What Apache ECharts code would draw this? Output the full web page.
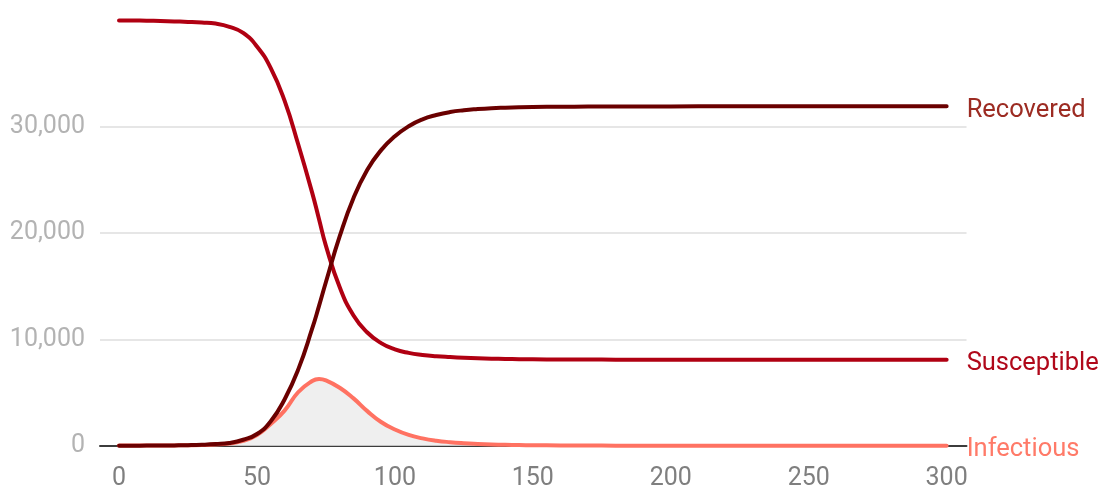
<!DOCTYPE html>
<html>
<head>
<meta charset="utf-8">
<script src="https://cdn.jsdelivr.net/npm/echarts@6/dist/echarts.min.js"></script>
<style>
html,body{margin:0;padding:0;background:#fff;}
#chart{width:1105px;height:486px;}
</style>
</head>
<body>
<div id="chart"></div>
<script>
// Days (x values)
var days = [0,5,10,15,20,25,30,35,40,45,50,55,60,65,70,72.5,75,80,85,90,95,100,105,110,115,120,125,130,135,140,145,150,160,170,180,190,200,220,240,260,280,300];
// Series values (people)
var susceptible = [40000,39990,39970,39940,39900,39860,39800,39700,39400,38820,37550,35520,32450,28300,23800,21300,18800,14900,12250,10650,9650,9060,8730,8540,8420,8340,8275,8225,8185,8155,8135,8120,8105,8098,8094,8092,8090,8090,8090,8090,8090,8090];
var infectious = [10,12,16,22,30,45,65,110,210,450,1000,2050,3300,5050,6080,6280,6150,5450,4450,3250,2230,1520,1010,690,470,330,235,170,120,85,62,45,22,11,5,2,1,0,0,0,0,0];
var recovered = [0,3,8,15,28,48,85,150,260,560,1100,2300,4350,7200,11000,13150,15400,19700,23300,25950,27800,29100,30050,30700,31100,31380,31550,31660,31740,31790,31830,31855,31880,31895,31903,31908,31912,31916,31918,31920,31920,31920];
// Axis ticks
var xTicks = [0,50,100,150,200,250,300];
var seriesNames = ['Infectious','Susceptible','Recovered'];

function pairs(vals){ return days.map(function(d,i){ return [d, vals[i]]; }); }

var FONT = 'Roboto';
var chart = echarts.init(document.getElementById('chart'), null, {renderer:'canvas'});
function mk(name, vals, color, labelColor, extra){
  var s = {
    name: name, type: 'line', data: pairs(vals), smooth: 0.5, showSymbol: false, symbol: 'none',
    clip: false,
    lineStyle: {color: color, width: 4, cap: 'round', join: 'round'},
    itemStyle: {color: color},
    endLabel: {show: true, formatter: '{a}', distance: 20, offset: [0, 4],
      color: labelColor, fontFamily: FONT, fontSize: 25.5},
    emphasis: {disabled: true}
  };
  for (var k in extra) s[k] = extra[k];
  return s;
}
chart.setOption({
  animation: false,
  backgroundColor: '#ffffff',
  grid: {left: 100, right: 138.5, top: 20.4, bottom: 40.3, containLabel: false, outerBoundsMode: 'none'},
  xAxis: {
    type: 'value', min: -6.9, max: 307.2,
    axisLine: {show: true, lineStyle: {color: '#3c3c3c', width: 2}},
    axisTick: {show: false},
    splitLine: {show: false},
    axisLabel: {customValues: xTicks, color: '#7f7f7f', fontFamily: FONT, fontSize: 25, margin: 21}
  },
  yAxis: {
    type: 'value', min: 0, max: 40000, interval: 10000,
    axisLine: {show: false}, axisTick: {show: false},
    splitLine: {show: true, showMaxLine: false, lineStyle: {color: '#e6e6e6', width: 2}},
    axisLabel: {showMaxLabel: false, color: '#b3b3b3', fontFamily: FONT, fontSize: 25, margin: 15,
      formatter: function(v){ return v.toLocaleString('en-US'); }}
  },
  series: [
    mk(seriesNames[0], infectious, '#ff7262', '#ff7a68', {areaStyle: {color: '#efefef', opacity: 1, origin: 0}}),
    mk(seriesNames[1], susceptible, '#b00012', '#b0081a', {}),
    mk(seriesNames[2], recovered, '#6a0000', '#9c2b22', {})
  ]
});
</script>
</body>
</html>
